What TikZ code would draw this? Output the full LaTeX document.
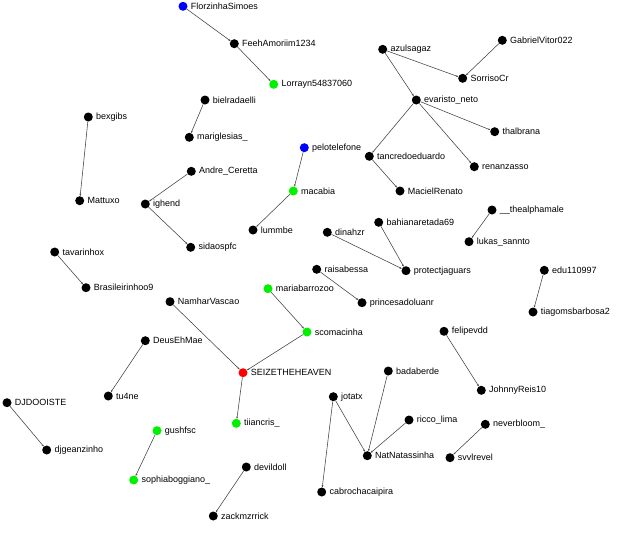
\documentclass[tikz,border=0pt]{standalone}
\usepackage{fontspec}
\setmainfont{Liberation Sans}
\usetikzlibrary{arrows.meta}
\definecolor{vgreen}{RGB}{0,240,0}
\definecolor{vblue}{RGB}{0,0,255}
\definecolor{vred}{RGB}{255,0,0}
\tikzset{
  v/.style={circle, fill=black, inner sep=0pt, minimum size=9pt,
    label={[lab]right:#1}},
  lab/.style={font=\fontsize{9}{10}\selectfont, text=black, inner sep=3pt, label distance=0pt},
  e/.style={draw=black!75, line width=0.55pt, -{Stealth[length=2.2pt,width=1.8pt]}},
}
\begin{document}
\begin{tikzpicture}[x=1pt,y=-1pt]
\useasboundingbox (0,0) rectangle (640,544);
% nodes
\node[v=FlorzinhaSimoes, fill=vblue] (flor) at (183,6.3) {};
\node[v=FeehAmoriim1234] (feeh) at (234.3,43.7) {};
\node[v=Lorrayn54837060, fill=vgreen] (lorr) at (273.7,84.3) {};
\node[v=bielradaelli] (biel) at (205,100) {};
\node[v=mariglesias\_] (mari) at (189.3,137.3) {};
\node[v=bexgibs] (bexg) at (88.3,117) {};
\node[v=Mattuxo] (matt) at (79.7,200.7) {};
\node[v=Andre\_Ceretta] (andre) at (191.3,171.3) {};
\node[v=ighend] (ighe) at (145.3,204) {};
\node[v=sidaospfc] (sida) at (190.7,247.3) {};
\node[v=pelotelefone, fill=vblue] (pelo) at (304.3,147.7) {};
\node[v=macabia, fill=vgreen] (maca) at (293.3,191) {};
\node[v=lummbe] (lumm) at (253,230) {};
\node[v=azulsagaz] (azul) at (382.7,49.3) {};
\node[v=GabrielVitor022] (gabr) at (502.3,40.3) {};
\node[v=SorrisoCr] (sorr) at (462.7,78.3) {};
\node[v=evaristo\_neto] (evar) at (416.3,100) {};
\node[v=thalbrana] (thal) at (494.7,131.7) {};
\node[v=tancredoeduardo] (tanc) at (369.3,156.3) {};
\node[v=renanzasso] (rena) at (474.3,166.7) {};
\node[v=MacielRenato] (maci) at (400,191) {};
\node[v=\_\_thealphamale] (theal) at (492,210) {};
\node[v=bahianaretada69] (bahi) at (378.7,222.3) {};
\node[v=dinahzr] (dina) at (327.3,232.3) {};
\node[v=lukas\_sannto] (luka) at (469,241.7) {};
\node[v=protectjaguars] (prot) at (406,270.7) {};
\node[v=raisabessa] (rais) at (316.7,269.3) {};
\node[v=princesadoluanr] (prin) at (362,302.7) {};
\node[v=edu110997] (edu) at (544.3,270.3) {};
\node[v=tiagomsbarbosa2] (tiag) at (533,312) {};
\node[v=tavarinhox] (tava) at (54.7,252) {};
\node[v=Brasileirinhoo9] (bras) at (86,287.7) {};
\node[v=NamharVascao] (namh) at (170,301.7) {};
\node[v=mariabarrozoo, fill=vgreen] (mbar) at (268,288.7) {};
\node[v=scomacinha, fill=vgreen] (scom) at (307,332) {};
\node[v=DeusEhMae] (deus) at (145.3,340.7) {};
\node[v=felipevdd] (feli) at (444,331.3) {};
\node[v=JohnnyReis10] (john) at (481.3,390.3) {};
\node[v=SEIZETHEHEAVEN, fill=vred] (seiz) at (243,372.7) {};
\node[v=tu4ne] (tu4n) at (108.3,396) {};
\node[v=DJDOOISTE] (djdo) at (7,402.7) {};
\node[v=djgeanzinho] (djge) at (46.7,450) {};
\node[v=tiiancris\_, fill=vgreen] (tiia) at (236.3,423.3) {};
\node[v=gushfsc, fill=vgreen] (gush) at (157,430.7) {};
\node[v=sophiaboggiano\_, fill=vgreen] (soph) at (133.7,480) {};
\node[v=devildoll] (devi) at (246.3,467) {};
\node[v=zackmzrrick] (zack) at (213.3,516) {};
\node[v=badaberde] (bada) at (388.3,371) {};
\node[v=jotatx] (jota) at (333.3,396.7) {};
\node[v=ricco\_lima] (ricc) at (409,420) {};
\node[v=neverbloom\_] (neve) at (485.3,424.3) {};
\node[v=NatNatassinha] (natn) at (367.3,455.7) {};
\node[v=svvlrevel] (svvl) at (450,457.7) {};
\node[v=cabrochacaipira] (cabr) at (321.7,492) {};
% edges
\draw[e] (flor) -- (feeh);
\draw[e] (feeh) -- (lorr);
\draw[e] (biel) -- (mari);
\draw[e] (bexg) -- (matt);
\draw[e] (andre) -- (ighe);
\draw[e] (ighe) -- (sida);
\draw[e] (pelo) -- (maca);
\draw[e] (maca) -- (lumm);
\draw[e] (azul) -- (sorr);
\draw[e] (gabr) -- (sorr);
\draw[e] (azul) -- (evar);
\draw[e] (evar) -- (thal);
\draw[e] (evar) -- (tanc);
\draw[e] (evar) -- (rena);
\draw[e] (tanc) -- (maci);
\draw[e] (theal) -- (luka);
\draw[e] (bahi) -- (prot);
\draw[e] (dina) -- (prot);
\draw[e] (rais) -- (prin);
\draw[e] (edu) -- (tiag);
\draw[e] (tava) -- (bras);
\draw[e] (namh) -- (seiz);
\draw[e] (mbar) -- (scom);
\draw[e] (scom) -- (seiz);
\draw[e] (deus) -- (tu4n);
\draw[e] (feli) -- (john);
\draw[e] (seiz) -- (tiia);
\draw[e] (djdo) -- (djge);
\draw[e] (gush) -- (soph);
\draw[e] (devi) -- (zack);
\draw[e] (bada) -- (natn);
\draw[e] (jota) -- (natn);
\draw[e] (jota) -- (cabr);
\draw[e] (ricc) -- (natn);
\draw[e] (neve) -- (svvl);
\end{tikzpicture}
\end{document}
